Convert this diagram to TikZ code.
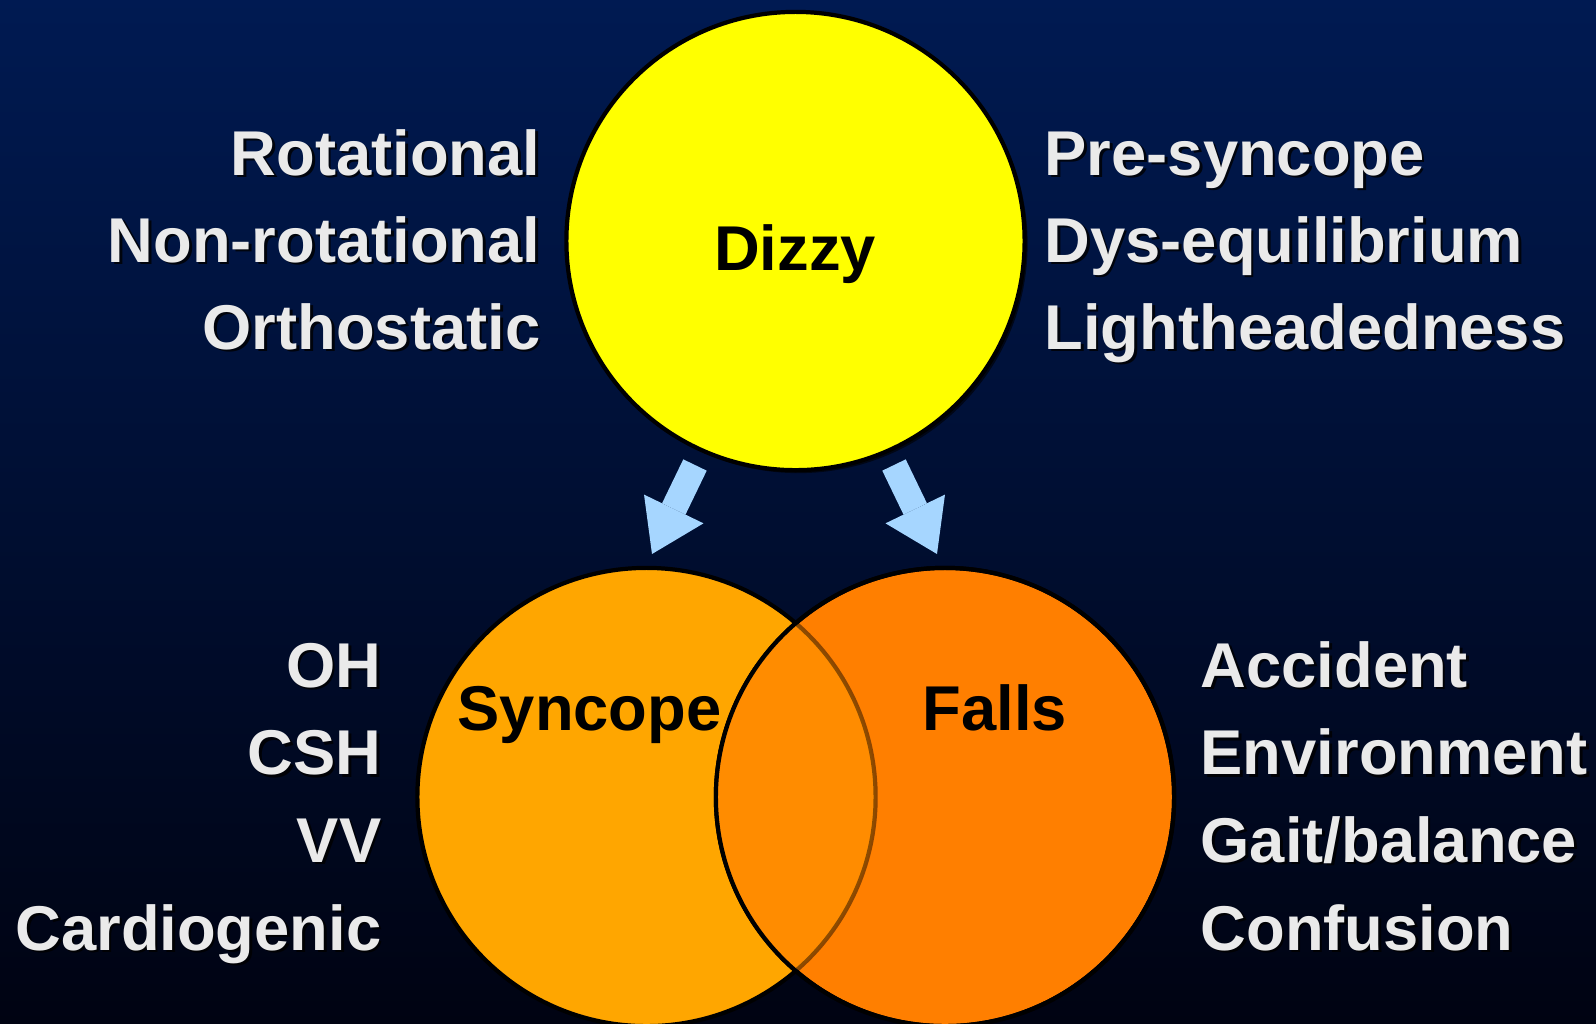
\documentclass[tikz,border=0pt]{standalone}
\usepackage{fontspec}
\setmainfont{Liberation Sans}
\usetikzlibrary{arrows.meta, calc}
\definecolor{bgtop}{RGB}{0,26,82}
\definecolor{bgbottom}{RGB}{0,3,18}
\definecolor{dizzyfill}{RGB}{255,255,0}
\definecolor{syncfill}{RGB}{255,166,0}
\definecolor{fallfill}{RGB}{255,127,0}
\definecolor{bothfill}{RGB}{255,140,0}
\definecolor{flowblue}{RGB}{166,214,255}
\definecolor{textgray}{RGB}{234,234,234}
\tikzset{
  blob/.style={circle, draw=black, line width=1.2pt, minimum size=4.58cm,
    inner sep=0pt, outer sep=0pt},
  title/.style={font=\bfseries\fontsize{18}{21}\selectfont, inner sep=0pt, anchor=base},
  sidetext/.style={font=\bfseries\fontsize{18}{21}\selectfont, text=textgray, inner sep=0pt},
  dropshadow/.style={text=black, opacity=0.8},
  flow/.style={draw=flowblue, line width=0.26cm,
    -{Triangle[length=0.5cm, width=0.66cm, line width=0pt]}},
}

\begin{document}
\begin{tikzpicture}[x=0.01cm, y=-0.01cm]
  % background
  \shade[top color=bgtop, bottom color=bgbottom] (0,0) rectangle (1596,1023);
  \useasboundingbox (0,0) rectangle (1596,1023);

  % circles
  \node[blob, draw=none, fill=black, opacity=0.6] (dizzy-s) at (798.5,244) {};
  \node[blob, fill=dizzyfill] (dizzy) at (795.5,241) {};
  \node[blob, fill=syncfill] (syncope) at (646.5,797) {};
  \node[blob, fill=fallfill] (falls) at (945,797) {};

  % overlap of the two
  \begin{scope}
    \clip (falls.center) circle[radius=2.29cm];
    \fill[bothfill] (syncope.center) circle[radius=2.29cm];
    \draw[black, opacity=0.45, line width=1.2pt] (syncope.center) circle[radius=2.29cm];
  \end{scope}
  \draw[line width=1.2pt] (falls.center) circle[radius=2.29cm];

  % arrows
  \coordinate (ltail) at (695,465);
  \coordinate (ltip) at (652,554);
  \coordinate (rtail) at (894,465);
  \coordinate (rtip) at (937,554);
  \draw[flow] (ltail) -- (ltip);
  \draw[flow] (rtail) -- (rtip);

  % titles
  \node[title] (dizzy-t) at (795,270) {Dizzy};
  \node[title] (syncope-t) at (589.5,730) {Syncope};
  \node[title] (falls-t) at (995,730) {Falls};

  % side lists
  \foreach \txt [count=\i from 0] in {Rotational,Non-rotational,Orthostatic} {
    \node[sidetext, dropshadow, anchor=base east] (dz-l\i-s) at (543.5,177.5+87*\i) {\txt};
    \node[sidetext, anchor=base east] (dz-l\i) at (541,175+87*\i) {\txt};
  }
  \foreach \txt [count=\i from 0] in {Pre-syncope,Dys-equilibrium,Lightheadedness} {
    \node[sidetext, dropshadow, anchor=base west] (dz-r\i-s) at (1046.5,177.5+87*\i) {\txt};
    \node[sidetext, anchor=base west] (dz-r\i) at (1044,175+87*\i) {\txt};
  }
  \foreach \txt [count=\i from 0] in {OH,CSH,VV,Cardiogenic} {
    \node[sidetext, dropshadow, anchor=base east] (sy-\i-s) at (384.5,689.5+87.7*\i) {\txt};
    \node[sidetext, anchor=base east] (sy-\i) at (382,687+87.7*\i) {\txt};
  }
  \foreach \txt [count=\i from 0] in {Accident,Environment,{Gait/balance},Confusion} {
    \node[sidetext, dropshadow, anchor=base west] (fa-\i-s) at (1202.5,689.5+87.7*\i) {\txt};
    \node[sidetext, anchor=base west] (fa-\i) at (1200,687+87.7*\i) {\txt};
  }
\end{tikzpicture}
\end{document}
